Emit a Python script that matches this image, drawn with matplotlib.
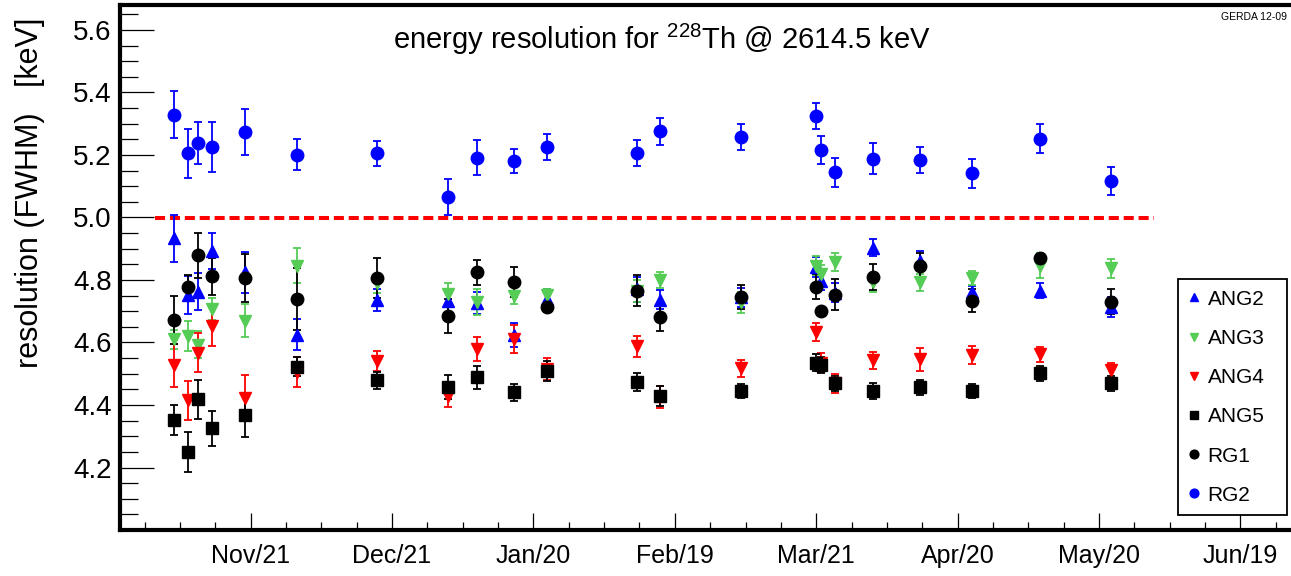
import numpy as np
import matplotlib
matplotlib.use('Agg')
import matplotlib.pyplot as plt
import matplotlib.dates as mdates
from matplotlib.lines import Line2D

# measurement dates (calibration runs)
dates = ['2011-11-05T04:00', '2011-11-08T05:00', '2011-11-10T08:00', '2011-11-13T04:30',
         '2011-11-20T07:00', '2011-12-01T07:30', '2011-12-18T08:30', '2012-01-02T15:00',
         '2012-01-08T16:00', '2012-01-16T16:30', '2012-01-23T14:30', '2012-02-11T19:00',
         '2012-02-16T18:00', '2012-03-04T23:00', '2012-03-21T00:15', '2012-03-22T00:15',
         '2012-03-25T01:30', '2012-04-02T02:00', '2012-04-12T04:30', '2012-04-23T05:00',
         '2012-05-07T18:00', '2012-05-22T21:00']

ang2 = [4.933, 4.752, 4.763, 4.894, 4.825, 4.625, 4.736, 4.732, 4.726, 4.625, 4.740,
        4.771, 4.737, 4.745, 4.841, 4.798, 4.760, 4.904, 4.862, 4.761, 4.766, 4.714]
ang2_err = [0.074, 0.062, 0.060, 0.058, 0.065, 0.050, 0.036, 0.040, 0.035, 0.038, 0.030,
            0.040, 0.030, 0.030, 0.032, 0.030, 0.030, 0.027, 0.030, 0.020, 0.025, 0.032]

ang3 = [4.610, 4.621, 4.593, 4.708, 4.670, 4.846, 4.790, 4.755, 4.729, 4.750, 4.752,
        4.766, 4.801, 4.729, 4.846, 4.819, 4.858, 4.793, 4.793, 4.806, 4.846, 4.837]
ang3_err = [0.030, 0.047, 0.044, 0.035, 0.052, 0.055, 0.030, 0.037, 0.041, 0.028, 0.020,
            0.035, 0.025, 0.033, 0.030, 0.030, 0.028, 0.030, 0.027, 0.023, 0.040, 0.030]

ang4 = [4.527, 4.415, 4.567, 4.653, 4.423, 4.507, 4.540, 4.429, 4.578, 4.612, 4.514,
        4.588, 4.425, 4.517, 4.633, 4.535, 4.470, 4.543, 4.546, 4.559, 4.562, 4.511]
ang4_err = [0.068, 0.063, 0.063, 0.065, 0.072, 0.048, 0.032, 0.036, 0.038, 0.045, 0.035,
            0.033, 0.035, 0.028, 0.028, 0.030, 0.030, 0.028, 0.037, 0.029, 0.025, 0.024]

ang5 = [4.352, 4.251, 4.418, 4.325, 4.368, 4.522, 4.479, 4.458, 4.488, 4.440, 4.509,
        4.474, 4.429, 4.444, 4.536, 4.527, 4.469, 4.445, 4.456, 4.445, 4.501, 4.469]
ang5_err = [0.047, 0.064, 0.063, 0.056, 0.070, 0.030, 0.028, 0.039, 0.036, 0.027, 0.032,
            0.029, 0.032, 0.023, 0.026, 0.026, 0.023, 0.026, 0.025, 0.022, 0.024, 0.025]

rg1 = [4.672, 4.777, 4.880, 4.812, 4.807, 4.740, 4.806, 4.684, 4.825, 4.795, 4.713,
       4.766, 4.683, 4.745, 4.779, 4.702, 4.753, 4.809, 4.844, 4.734, 4.869, 4.731]
rg1_err = [0.077, 0.040, 0.072, 0.060, 0.077, 0.099, 0.064, 0.055, 0.040, 0.048, 0.015,
           0.049, 0.045, 0.038, 0.040, 0.010, 0.049, 0.041, 0.041, 0.037, 0.010, 0.041]

rg2 = [5.329, 5.205, 5.239, 5.226, 5.273, 5.201, 5.205, 5.066, 5.191, 5.180, 5.226,
       5.207, 5.276, 5.257, 5.324, 5.216, 5.145, 5.188, 5.183, 5.141, 5.252, 5.117]
rg2_err = [0.075, 0.079, 0.067, 0.080, 0.074, 0.049, 0.039, 0.057, 0.056, 0.038, 0.041,
           0.042, 0.044, 0.041, 0.042, 0.046, 0.047, 0.049, 0.042, 0.047, 0.046, 0.046]

tick_labels = ['Nov/21', 'Dec/21', 'Jan/20', 'Feb/19', 'Mar/21', 'Apr/20', 'May/20', 'Jun/19']
limit_value = 5.0
limit_range = ['2011-11-01T00:00', '2012-06-01T00:00']

plt.rcParams['font.family'] = ['Liberation Sans', 'DejaVu Sans']

fig = plt.figure(figsize=(12.91, 5.76), dpi=100)
ax = fig.add_axes([120 / 1291, 46 / 576, 1171 / 1291, 525 / 576])

t = mdates.date2num(np.array(dates, dtype='datetime64[m]'))

series = [
    ('ANG2', ang2, ang2_err, '^', '#0000ff', 9),
    ('ANG3', ang3, ang3_err, 'v', '#55cc55', 9),
    ('ANG4', ang4, ang4_err, 'v', '#ff0000', 9),
    ('ANG5', ang5, ang5_err, 's', '#000000', 8),
    ('RG1', rg1, rg1_err, 'o', '#000000', 9),
    ('RG2', rg2, rg2_err, 'o', '#0000ff', 9),
]
handles = []
for name, v, e, m, c, ms in series:
    ax.errorbar(t, v, yerr=e, fmt=m, color=c, ms=ms, mec=c, elinewidth=1.3,
                capsize=2.9, capthick=1.3)
    handles.append(Line2D([], [], ls='none', marker=m, color=c, mec=c, ms=ms * 0.7, label=name))

lx = mdates.date2num(np.array(limit_range, dtype='datetime64[m]'))
ax.plot(lx, [limit_value, limit_value], color='#ff0000', lw=2.9,
        linestyle=(0, (2.5, 1.2)), zorder=1)

# time axis, ROOT-like equal divisions
t0 = mdates.date2num(np.datetime64('2011-11-21T12:00'))
step = 30.143
ax.set_xlim(t0 - 27.86, t0 + 221.8)
ax.set_xticks(t0 + step * np.arange(len(tick_labels)))
ax.set_xticklabels(tick_labels, fontsize=18)
ax.set_xticks(t0 + step / 4 * np.arange(-3, 30), minor=True)

ax.set_ylim(4.0, 5.68)
ax.set_yticks(np.arange(4.2, 5.61, 0.2))
ax.set_yticklabels(['%.1f' % y for y in np.arange(4.2, 5.61, 0.2)], fontsize=20)
ax.set_yticks(np.arange(4.0, 5.68, 0.05), minor=True)

ax.tick_params(axis='y', which='major', direction='in', length=24.5, width=0.9, pad=6)
ax.tick_params(axis='y', which='minor', direction='in', length=12.7, width=0.9)
ax.tick_params(axis='x', which='major', direction='in', length=12, width=0.9, pad=10)
ax.tick_params(axis='x', which='minor', direction='in', length=6, width=0.9)

for s in ['left', 'bottom', 'top']:
    ax.spines[s].set_linewidth(3)
ax.spines['right'].set_visible(False)

fig.text(30 / 1291, 1 - 193 / 576, 'resolution (FWHM)   [keV]', rotation=90,
         ha='center', va='center', fontsize=22)
fig.text(662 / 1291, 1 - 39 / 576, r'energy resolution for $\mathregular{^{228}}$Th @ 2614.5 keV',
         ha='center', va='center', fontsize=21)
fig.text(1287 / 1291, 1 - 17 / 576, 'GERDA 12-09', ha='right', va='center', fontsize=7.5)

leg = ax.legend(handles=handles, loc='upper left',
                bbox_to_anchor=(0.9038, 0.0368, 0.0926, 0.4407),
                mode='expand', borderaxespad=0, fontsize=15, labelspacing=0.97,
                handlelength=0.5, handletextpad=0.4, borderpad=0.5,
                fancybox=False, edgecolor='black', framealpha=1)
leg.get_frame().set_linewidth(1.3)

fig.savefig('out.png', dpi=100)
